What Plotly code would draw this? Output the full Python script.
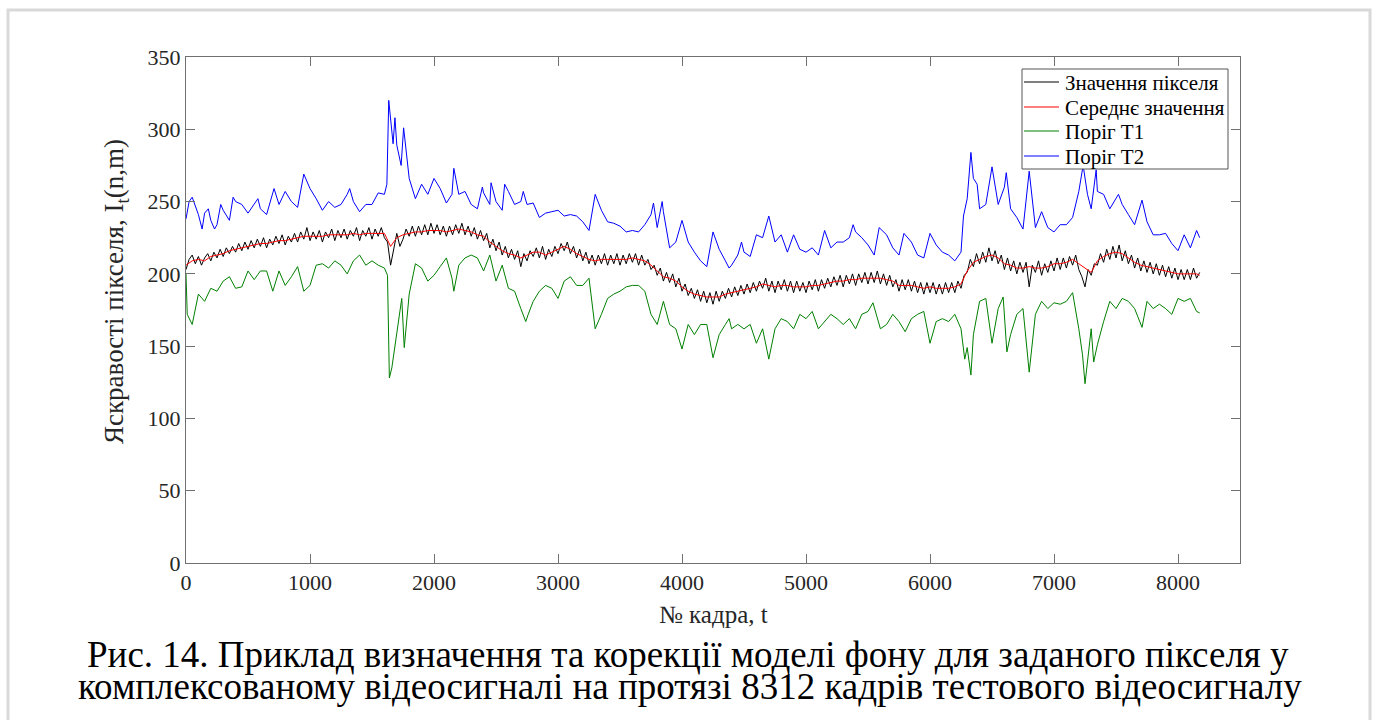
import plotly.graph_objects as go

# ---------------- data ----------------
# mean value, sampled every 50 frames (last point = final frame 8175)
frames_mean = list(range(0, 8200, 50)) + [8175]
mean_vals = [
    206, 209, 210, 209, 212, 213, 214, 216, 217, 218, 219, 220, 221, 221, 222, 223, 223, 224, 225, 226,
    226, 226, 226, 227, 227, 227, 227, 228, 227, 228, 228, 228, 228, 219, 225, 227, 228, 229, 229, 230,
    230, 230, 229, 230, 231, 230, 229, 227, 226, 222, 219, 216, 214, 213, 211, 213, 215, 215, 213, 215,
    217, 219, 217, 214, 212, 210, 209, 210, 210, 210, 210, 210, 211, 210, 209, 206, 202, 198, 197, 195,
    191, 188, 186, 185, 184, 184, 184, 186, 187, 188, 189, 190, 191, 193, 192, 191, 192, 192, 191, 191,
    191, 192, 192, 193, 194, 195, 195, 196, 196, 197, 197, 197, 197, 196, 195, 192, 192, 192, 191, 190,
    191, 190, 190, 190, 191, 193, 202, 208, 210, 212, 213, 211, 207, 206, 204, 204, 205, 204, 204, 205,
    207, 207, 208, 210, 207, 204, 201, 209, 212, 214, 215, 214, 211, 208, 206, 205, 204, 203, 202, 201,
    200, 200, 200, 200, 199,
]

# raw pixel value, sampled every 25 frames
pixel_vals = [
    203, 210, 213, 207, 212, 206, 211, 214, 209, 215, 211, 217, 212, 218, 214, 219, 215, 221, 216, 222,
    217, 223, 218, 224, 219, 225, 218, 224, 220, 226, 221, 227, 220, 226, 222, 228, 222, 229, 224, 232,
    223, 229, 224, 230, 222, 229, 225, 231, 223, 230, 225, 231, 224, 230, 226, 232, 223, 230, 226, 232,
    224, 231, 226, 232, 225, 222, 206, 216, 228, 219, 224, 231, 226, 233, 226, 233, 227, 234, 227, 235,
    228, 234, 227, 233, 226,
    233, 227, 234, 228, 235, 227, 233, 226, 232, 224, 230, 223, 228, 218, 224, 216, 222, 213, 219, 211,
    217, 210, 216, 205, 214, 209, 216, 212, 218, 211, 219, 210, 217, 212, 219, 214, 221, 216, 222, 214,
    219, 211, 217, 209, 215, 207, 213, 206, 213, 207, 214, 206, 213, 207, 214, 206, 213, 207, 214, 208,
    214, 206, 213, 206, 210, 203, 206, 199, 204, 195, 201, 194, 200, 191, 197, 188, 193, 185, 190, 183,
    189, 181, 188, 180, 187, 179,
    188, 181, 188, 183, 190, 184, 191, 185, 192, 186, 193, 187, 194, 188, 195, 190, 197, 188, 195, 187,
    195, 189, 196, 188, 195, 187, 195, 188, 194, 187, 195, 189, 196, 188, 196, 190, 197, 191, 198, 192,
    199, 191, 199, 193, 200, 192, 200, 194, 201, 193, 201, 194, 202, 193, 200, 192, 199, 191, 196, 188,
    196, 189, 196, 188, 195, 187, 194, 186, 194, 187, 194, 186, 193, 186, 194, 187, 194, 187, 195, 190,
    199, 201, 210, 205, 214, 207,
    215, 208, 218, 209, 216, 207, 213, 203, 211, 202, 209, 200, 208, 201, 208, 191, 206, 201, 209, 199,
    207, 201, 209, 202, 211, 203, 211, 204, 212, 206, 213, 203, 198, 191, 203, 199, 207, 206, 214, 208,
    217, 210, 219, 211, 220, 209, 216, 207, 213, 204, 211, 202, 209, 201, 208, 200, 207, 199, 206, 198,
    205, 197, 204, 196, 203, 196, 203, 196, 204, 197, 201,
]
frames_pixel = [25 * i for i in range(len(pixel_vals))]

frames_t1 = [
    0, 10, 50, 100, 150, 200, 250, 300, 350, 400, 450, 500, 550, 600, 650, 700, 750, 800, 850, 900,
    950, 1000, 1050, 1100, 1150, 1200, 1250, 1300, 1350, 1400, 1450, 1500, 1550, 1600, 1625, 1640, 1660, 1700, 1740, 1760,
    1800, 1850, 1900, 1950, 2000, 2050, 2100, 2145, 2160, 2200, 2250, 2300, 2350, 2400, 2450, 2500, 2550, 2600, 2650, 2700,
    2740, 2760, 2800, 2850, 2900, 2950, 3000, 3050, 3100, 3150, 3200, 3250, 3300, 3350, 3400, 3450, 3500, 3550, 3600, 3650,
    3700, 3750, 3800, 3850, 3900, 3950, 4000, 4050, 4100, 4150, 4200, 4250, 4300, 4350, 4380, 4400, 4450, 4500, 4550, 4600,
    4650, 4700, 4750, 4800, 4850, 4900, 4950, 5000, 5050, 5100, 5150, 5200, 5250, 5300, 5350, 5400, 5450, 5500, 5540, 5600,
    5650, 5700, 5750, 5800, 5850, 5900, 5950, 6000, 6050, 6100, 6150, 6200, 6250, 6280, 6300, 6330, 6350, 6400, 6450, 6500,
    6550, 6590, 6620, 6650, 6700, 6750, 6800, 6850, 6900, 6950, 7000, 7050, 7100, 7150, 7200, 7230, 7250, 7280, 7300, 7320,
    7350, 7400, 7450, 7500, 7550, 7600, 7650, 7710, 7750, 7800, 7850, 7900, 7950, 8000, 8050, 8100, 8150, 8175,
]
t1_vals = [
    200, 172, 165, 186, 181, 190, 188, 195, 198, 190, 191, 202, 196, 202, 202, 188, 202, 192, 198, 205,
    188, 192, 206, 207, 204, 209, 206, 200, 209, 213, 206, 209, 206, 204, 199, 128, 135, 158, 183, 149,
    186, 207, 204, 195, 199, 205, 211, 197, 188, 206, 211, 213, 211, 202, 213, 195, 206, 190, 188, 176,
    167, 172, 181, 188, 192, 190, 183, 195, 198, 192, 192, 197, 162, 172, 183, 186, 188, 191, 192, 192,
    188, 172, 165, 181, 165, 162, 148, 165, 158, 165, 165, 142, 158, 165, 169, 162, 165, 162, 165, 152,
    162, 141, 162, 169, 167, 162, 172, 169, 174, 162, 167, 172, 169, 165, 169, 162, 172, 174, 180, 162,
    165, 172, 167, 160, 169, 172, 174, 152, 167, 169, 167, 172, 162, 141, 149, 130, 158, 181, 183, 152,
    176, 184, 146, 158, 172, 176, 132, 172, 181, 176, 180, 179, 181, 187, 162, 144, 124, 149, 162, 139,
    151, 167, 181, 176, 183, 181, 176, 163, 181, 176, 179, 176, 172, 183, 181, 183, 174, 173,
]

frames_t2 = [
    0, 25, 50, 100, 130, 150, 180, 200, 230, 250, 280, 300, 350, 380, 400, 450, 500, 550, 580, 600,
    650, 700, 710, 750, 800, 850, 900, 950, 1000, 1050, 1100, 1150, 1200, 1250, 1300, 1320, 1350, 1400, 1450, 1500,
    1550, 1600, 1620, 1635, 1650, 1670, 1685, 1700, 1735, 1755, 1800, 1850, 1900, 1950, 2000, 2050, 2100, 2145, 2160, 2200,
    2250, 2300, 2350, 2390, 2400, 2450, 2460, 2500, 2550, 2570, 2600, 2650, 2700, 2720, 2750, 2800, 2850, 2900, 2950, 3000,
    3050, 3100, 3150, 3200, 3250, 3300, 3350, 3400, 3450, 3500, 3550, 3600, 3650, 3700, 3750, 3770, 3800, 3840, 3850, 3900,
    3950, 4000, 4050, 4100, 4150, 4200, 4250, 4300, 4350, 4380, 4400, 4450, 4480, 4500, 4550, 4600, 4650, 4700, 4750, 4800,
    4850, 4900, 4950, 5000, 5050, 5100, 5150, 5200, 5250, 5300, 5350, 5380, 5400, 5450, 5500, 5550, 5590, 5650, 5700, 5750,
    5790, 5850, 5900, 5950, 6000, 6050, 6100, 6150, 6200, 6250, 6270, 6300, 6330, 6350, 6380, 6400, 6450, 6500, 6550, 6600,
    6615, 6650, 6700, 6750, 6800, 6850, 6900, 6950, 7000, 7050, 7100, 7150, 7200, 7235, 7270, 7300, 7340, 7350, 7400, 7450,
    7520, 7550, 7600, 7650, 7710, 7750, 7800, 7850, 7900, 7950, 8000, 8050, 8100, 8150, 8175,
]
t2_vals = [
    238, 250, 253, 241, 231, 242, 245, 237, 231, 234, 248, 244, 237, 253, 250, 248, 242, 248, 252, 245,
    241, 256, 259, 248, 257, 250, 246, 269, 259, 252, 244, 250, 246, 248, 255, 259, 250, 243, 248, 248,
    256, 255, 262, 320, 305, 290, 308, 289, 275, 301, 266, 252, 262, 255, 266, 259, 249, 255, 273, 255,
    257, 248, 245, 260, 256, 248, 263, 250, 244, 262, 257, 248, 250, 257, 248, 249, 239, 242, 243, 244,
    240, 241, 240, 236, 230, 255, 244, 236, 235, 233, 229, 230, 229, 234, 241, 249, 232, 250, 243, 218,
    222, 237, 222, 215, 209, 205, 229, 217, 209, 204, 206, 213, 222, 215, 212, 227, 225, 240, 222, 227,
    215, 227, 217, 215, 218, 213, 230, 218, 222, 222, 225, 234, 229, 225, 220, 213, 232, 227, 218, 213,
    228, 222, 213, 211, 228, 220, 215, 213, 209, 215, 240, 252, 284, 266, 262, 245, 248, 274, 248, 260,
    270, 245, 239, 231, 271, 232, 243, 232, 229, 234, 234, 239, 257, 275, 255, 245, 272, 257, 255, 245,
    255, 248, 241, 234, 251, 236, 227, 227, 228, 221, 216, 227, 218, 230, 225,
]

series_names = ["Значення пікселя", "Середнє значення", "Поріг T1", "Поріг T2"]
series_colors = ["#000000", "#ff0000", "#008000", "#0000ff"]
x_ticks = [0, 1000, 2000, 3000, 4000, 5000, 6000, 7000, 8000]
y_ticks = [0, 50, 100, 150, 200, 250, 300, 350]
x_title = "№ кадра, t"
y_title = "Яскравості пікселя, I<sub>t</sub>(n,m)"
caption_1 = "Рис. 14. Приклад визначення та корекції моделі фону для заданого пікселя у"
caption_2 = "комплексованому відеосигналі на протязі 8312 кадрів тестового відеосигналу"

# ---------------- layout geometry ----------------
W, H = 1375, 720
L, R, T, B = 186, 1240, 57, 563
FONT = "Liberation Serif, DejaVu Serif, serif"


def px(x):
    return (x - L) / (R - L)


def py(y):
    return (B - y) / (B - T)


fig = go.Figure()
series = [
    (frames_pixel, pixel_vals),
    (frames_mean, mean_vals),
    (frames_t1, t1_vals),
    (frames_t2, t2_vals),
]
for (xs, ys), name, col in zip(series, series_names, series_colors):
    fig.add_trace(go.Scatter(x=xs, y=ys, mode="lines", name=name,
                             line=dict(color=col, width=1)))

axis_common = dict(
    showgrid=False, zeroline=False, showline=True, linecolor="#707070", linewidth=1,
    mirror="ticks", ticks="inside", ticklen=9, tickcolor="#707070", tickwidth=1,
    tickfont=dict(family=FONT, size=22, color="#262626"),
)
fig.update_xaxes(range=[0, 8500], tickvals=x_ticks, ticktext=[str(v) for v in x_ticks], **axis_common)
fig.update_yaxes(range=[0, 350], tickvals=y_ticks, ticktext=[str(v) for v in y_ticks], **axis_common)

# ---- manual legend (MATLAB style box) ----
shapes = [
    dict(type="path", xref="paper", yref="paper",
         path=f"M {px(8)} {py(725)} L {px(8)} {py(10)} L {px(1370)} {py(10)} L {px(1370)} {py(725)}",
         line=dict(color="#d9d9d9", width=3), layer="below"),
    dict(type="rect", xref="paper", yref="paper",
         x0=px(1022), x1=px(1228), y0=py(169), y1=py(69),
         line=dict(color="#555555", width=1), fillcolor="white", layer="above"),
]
annotations = []
row_y = [82, 107, 131, 156]
for name, col, yy in zip(series_names, series_colors, row_y):
    shapes.append(dict(type="line", xref="paper", yref="paper",
                       x0=px(1024), x1=px(1059), y0=py(yy), y1=py(yy),
                       line=dict(color=col, width=1), layer="above"))
    annotations.append(dict(text=name, x=px(1063), y=py(yy + 1), xref="paper", yref="paper",
                            showarrow=False, xanchor="left", yanchor="middle",
                            font=dict(family=FONT, size=21, color="#000000")))

# axis titles
annotations.append(dict(text=x_title, x=px(713), y=py(614), xref="paper", yref="paper",
                        showarrow=False, xanchor="center", yanchor="middle",
                        font=dict(family=FONT, size=25, color="#262626")))
annotations.append(dict(text=y_title, x=px(116), y=py(292), xref="paper", yref="paper",
                        showarrow=False, xanchor="center", yanchor="middle", textangle=-90,
                        font=dict(family=FONT, size=27, color="#262626")))
# caption
annotations.append(dict(text=caption_1, x=px(688), y=py(654), xref="paper", yref="paper",
                        showarrow=False, xanchor="center", yanchor="middle",
                        font=dict(family=FONT, size=37, color="#000000")))
annotations.append(dict(text=caption_2, x=px(690), y=py(686), xref="paper", yref="paper",
                        showarrow=False, xanchor="center", yanchor="middle",
                        font=dict(family=FONT, size=37, color="#000000")))

fig.update_layout(
    width=W, height=H,
    margin=dict(l=L, r=W - R, t=T, b=H - B, pad=0),
    paper_bgcolor="white", plot_bgcolor="white",
    font=dict(family=FONT, color="#000000"),
    showlegend=False,
    shapes=shapes,
    annotations=annotations,
)

fig.write_html("out.html")
